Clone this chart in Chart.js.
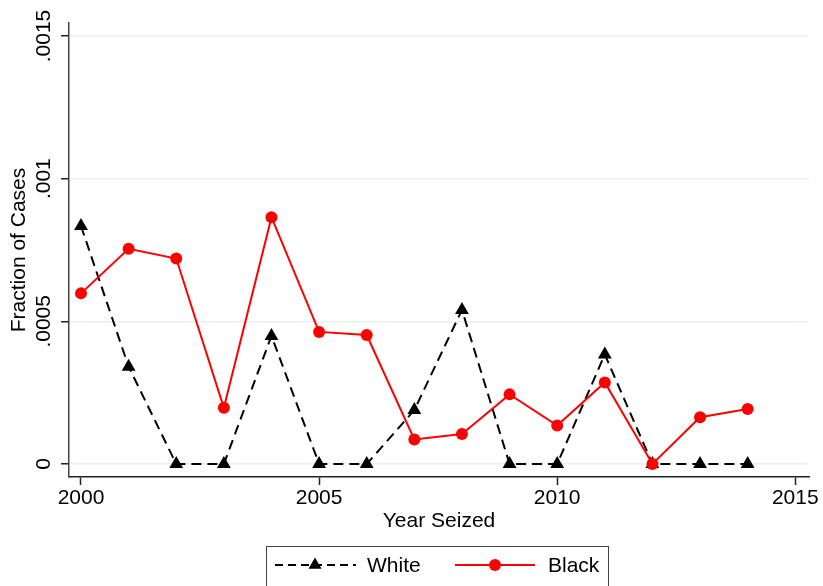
<!DOCTYPE html>
<html>
<head>
<meta charset="utf-8">
<script src="https://cdn.jsdelivr.net/npm/chart.js@4/dist/chart.umd.min.js"></script>
<style>
  html, body { margin: 0; padding: 0; background: #fff; }
  #wrap { width: 823px; height: 586px; }
</style>
</head>
<body>
<div id="wrap"><canvas id="c" width="823" height="586"></canvas></div>
<script>
// Share of cases by year seized, by group
const years = [2000, 2001, 2002, 2003, 2004, 2005, 2006, 2007, 2008, 2009, 2010, 2011, 2012, 2013, 2014];
const whiteShare = [0.000834, 0.000341, 0, 0, 0.000449, 0, 0, 0.000189, 0.000540, 0, 0, 0.000384, 0, 0, 0];
const blackShare = [0.000598, 0.000754, 0.000720, 0.000197, 0.000865, 0.000463, 0.000452, 0.000086, 0.000105, 0.000244, 0.000135, 0.000286, 0, 0.000164, 0.000193];
const seriesNames = ['White', 'Black'];
const xTickValues = [2000, 2005, 2010, 2015];
const yTickValues = [0, 0.0005, 0.001, 0.0015];
const yTickLabels = ['0', '.0005', '.001', '.0015'];

const FONT = '"Liberation Sans", Arial, Helvetica, sans-serif';
Chart.defaults.font.family = FONT;
Chart.defaults.color = '#000';

const toPoints = vals => years.map((yr, i) => ({ x: yr, y: vals[i] }));

// Vertical y tick labels plus the framed legend under the axis
const decorations = {
  id: 'decorations',
  afterDraw(chart) {
    const ctx = chart.ctx;
    const ys = chart.scales.y;
    ctx.save();
    ctx.font = '21px ' + FONT;
    ctx.fillStyle = '#000';
    ctx.textAlign = 'center';
    ctx.textBaseline = 'middle';
    yTickValues.forEach((v, i) => {
      ctx.save();
      ctx.translate(ys.right - 25, ys.getPixelForValue(v));
      ctx.rotate(-Math.PI / 2);
      ctx.fillText(yTickLabels[i], 0, 0);
      ctx.restore();
    });

    // legend frame
    ctx.strokeStyle = '#444';
    ctx.lineWidth = 1;
    ctx.strokeRect(266.5, 546.5, 342, 60);

    const ly = 565;
    // White: dashed black line with triangle
    ctx.strokeStyle = '#000';
    ctx.lineWidth = 2;
    ctx.setLineDash([8, 5]);
    ctx.beginPath(); ctx.moveTo(275, ly); ctx.lineTo(356, ly); ctx.stroke();
    ctx.setLineDash([]);
    ctx.fillStyle = '#000';
    const r = 7.5;
    ctx.beginPath();
    ctx.moveTo(315, ly - r);
    ctx.lineTo(315 + r * Math.sin(2 * Math.PI / 3), ly + r / 2);
    ctx.lineTo(315 - r * Math.sin(2 * Math.PI / 3), ly + r / 2);
    ctx.closePath(); ctx.fill();

    // Black: solid red line with circle
    ctx.strokeStyle = '#ff0000';
    ctx.beginPath(); ctx.moveTo(455, ly); ctx.lineTo(535, ly); ctx.stroke();
    ctx.fillStyle = '#ff0000';
    ctx.beginPath(); ctx.arc(495, ly, 6, 0, Math.PI * 2); ctx.fill();

    ctx.fillStyle = '#000';
    ctx.textAlign = 'left';
    ctx.fillText(seriesNames[0], 367, ly + 1);
    ctx.fillText(seriesNames[1], 548, ly + 1);
    ctx.restore();
  }
};

new Chart(document.getElementById('c'), {
  type: 'line',
  data: {
    datasets: [
      {
        label: seriesNames[0],
        data: toPoints(whiteShare),
        order: 1,
        borderColor: '#000',
        borderWidth: 2,
        borderDash: [10, 6],
        tension: 0,
        pointStyle: 'triangle',
        pointRadius: 8,
        pointBackgroundColor: '#000',
        pointBorderWidth: 0
      },
      {
        label: seriesNames[1],
        data: toPoints(blackShare),
        order: 0,
        borderColor: '#ff0000',
        borderWidth: 2,
        tension: 0,
        pointStyle: 'circle',
        pointRadius: 6,
        pointBackgroundColor: '#ff0000',
        pointBorderWidth: 0
      }
    ]
  },
  options: {
    responsive: false,
    animation: false,
    devicePixelRatio: 1,
    layout: { padding: { top: 23, right: 14, left: 0, bottom: 0 } },
    plugins: { legend: { display: false }, tooltip: { enabled: false } },
    scales: {
      x: {
        type: 'linear',
        min: 1999.748,
        max: 2015.288,
        afterBuildTicks: s => { s.ticks = xTickValues.map(v => ({ value: v })); },
        afterFit: s => { s.height = 109; },
        ticks: {
          font: { size: 21, lineHeight: 1 },
          color: '#000',
          padding: 2.5,
          maxRotation: 0,
          callback: v => String(v)
        },
        grid: {
          display: true,
          drawOnChartArea: false,
          tickLength: 8,
          tickColor: '#222',
          tickWidth: 1.5
        },
        border: { display: true, color: '#222', width: 1.5 },
        title: {
          display: true,
          text: 'Year Seized',
          font: { size: 21, lineHeight: 1 },
          color: '#000',
          padding: { top: 0, bottom: 54.5 }
        }
      },
      y: {
        type: 'linear',
        min: -0.0000456,
        max: 0.0015456,
        afterBuildTicks: s => { s.ticks = yTickValues.map(v => ({ value: v })); },
        afterFit: s => { s.width = 69; },
        ticks: { display: false },
        grid: {
          display: true,
          drawOnChartArea: true,
          color: '#e8f0f2',
          lineWidth: 1.5,
          tickLength: 8,
          tickColor: '#222',
          tickWidth: 1.5
        },
        border: { display: true, color: '#444', width: 1.5 },
        title: {
          display: true,
          text: 'Fraction of Cases',
          font: { size: 21, lineHeight: 1 },
          color: '#000',
          padding: { top: 8.5, bottom: 0 }
        }
      }
    }
  },
  plugins: [decorations]
});
</script>
</body>
</html>
